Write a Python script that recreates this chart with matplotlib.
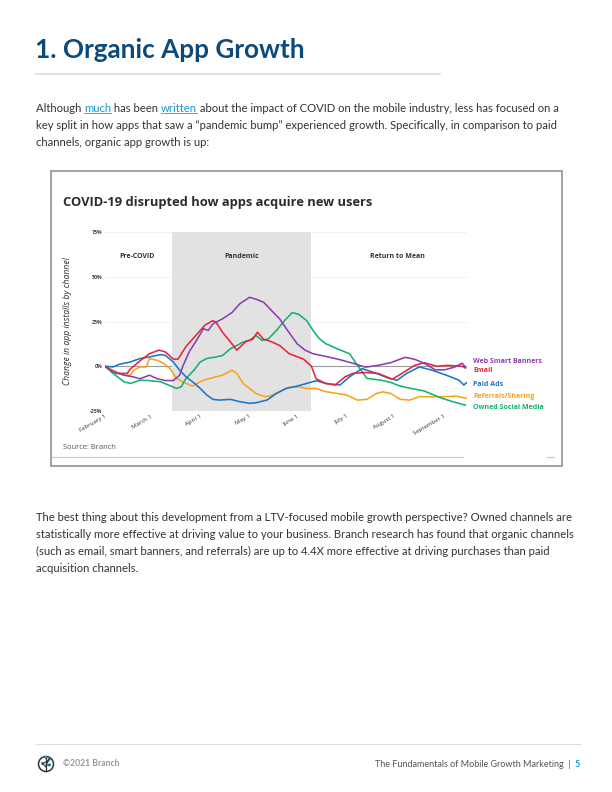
import matplotlib
matplotlib.use("Agg")
import matplotlib.pyplot as plt
from matplotlib.patches import Rectangle, Circle

# Data: days since February 1 (2020) and % change in installs
banners_days = [0, 5, 12, 18, 22, 28, 33, 38, 43, 47, 49, 53, 58, 62, 65, 68, 74, 80, 85, 91, 95, 100, 105,
                110, 115, 121, 126, 131, 139, 147, 156, 164, 172, 180, 189, 195, 201, 208, 214, 220, 225, 227]
banners_vals = [0, -3, -5, -6, -7, -5, -7, -8, -8, -5, 0, 8, 15, 21, 20, 23.7, 26.5, 30, 35, 38.5, 37.5, 35.7, 31,
                26.5, 20, 12.6, 9, 7, 5.5, 3.9, 1.7, -0.5, 0.5, 2, 5, 3.9, 1.7, -2, -2, -0.5, 1.7, -0.5]

email_days = [0, 7, 14, 16, 22, 28, 34, 38, 43, 46, 51, 58, 63, 68, 70, 74, 80, 83, 89, 93, 96, 100, 104, 110,
              116, 125, 130, 133, 139, 145, 151, 156, 164, 172, 181, 187, 195, 201, 209, 216, 225, 227]
email_vals = [0, -4, -4, -1.5, 3, 7, 9, 8, 4, 4, 11, 18, 23, 25.5, 24.5, 19, 12.5, 9, 14, 15, 19, 15, 14, 11.6,
              7, 4, 0, -7, -9.6, -10.5, -6, -4, -3.5, -4, -7.2, -4, 0.5, 2, 0, 0.5, 0, -1]

paid_days = [0, 5, 9, 16, 22, 28, 35, 38, 43, 47, 51, 56, 60, 64, 68, 72, 79, 85, 91, 95, 102, 108, 114, 121,
             127, 133, 139, 148, 154, 162, 171, 179, 184, 190, 198, 206, 215, 223, 226, 228]
paid_vals = [0, -0.4, 1.1, 2.4, 4.3, 5.2, 6.5, 6.1, 2.4, -2.2, -5.9, -9.3, -12.4, -16, -18.5, -18.9, -18.5,
             -19.8, -20.7, -20.4, -18.9, -15.2, -12.4, -11.1, -9.6, -8.1, -9.6, -10.5, -5.9, -1.3, -4, -6.8,
             -7.8, -4, -0.4, -2.2, -5, -7.8, -10.5, -9]

referral_days = [0, 5, 12, 16, 18, 22, 26, 28, 33, 37, 41, 45, 49, 55, 58, 62, 66, 70, 74, 80, 83, 87, 91, 95,
                 101, 104, 110, 116, 122, 127, 133, 139, 152, 159, 165, 171, 175, 180, 186, 192, 198, 206, 214,
                 221, 228]
referral_vals = [0, -2.2, -5, -5, -2.2, -0.4, -0.4, 4.3, 3.3, 1.5, -1.3, -6.8, -8.7, -11.1, -9.6, -7.8, -6.8,
                 -5.9, -5, -2.2, -4, -9.6, -12.4, -15.2, -17, -16.5, -14.2, -11.8, -11.5, -12.4, -12.4, -14.2,
                 -16, -18.9, -18.5, -15.2, -14.3, -15.2, -18.5, -18.9, -17, -17, -17, -16.7, -18]

social_days = [0, 5, 12, 16, 22, 28, 35, 40, 45, 48, 51, 56, 60, 64, 70, 74, 79, 83, 87, 91, 95, 99, 103, 108,
               113, 118, 122, 127, 131, 135, 139, 147, 154, 159, 165, 174, 180, 184, 189, 201, 211, 219, 227]
social_vals = [0, -4, -8.7, -9.6, -7.8, -8, -8.7, -10.5, -12.4, -11.5, -6.8, -2.2, 2.4, 4.3, 5.2, 6, 9.8, 11.6,
               13.5, 14.4, 17.2, 14.4, 15.4, 20, 25.5, 30, 29, 25.5, 20, 15.4, 12.6, 9.5, 7, 0.5, -6.8, -7.8,
               -9, -10.5, -11.7, -13.8, -17.5, -19.8, -21.7]

channel_names = ["Web Smart Banners", "Email", "Paid Ads", "Referrals/Sharing", "Owned Social Media"]
month_days = [0, 29, 60, 91, 121, 152, 182, 213]
month_labels = ["February 1", "March 1", "April 1", "May 1", "June 1", "July 1", "August 1", "September 1"]
y_ticks = [-25, 0, 25, 50, 75]
phase_names = ["Pre-COVID", "Pandemic", "Return to Mean"]
phase_days = [20, 86, 184]
pandemic_start, pandemic_end = 42, 130

purple = "#8a3fae"
red = "#e8243a"
blue = "#1b76c9"
orange = "#f8a31e"
green = "#14b26c"
dark = "#333333"
navy = "#0d4a7c"
link = "#1a9ad6"

fig = plt.figure(figsize=(6.12, 7.92), dpi=100)

# page layer in pixel coordinates
page = fig.add_axes([0, 0, 1, 1])
page.set_xlim(0, 612)
page.set_ylim(792, 0)
page.axis("off")

page.text(35, 58, "1. Organic App Growth", fontsize=18.8, fontweight="bold", color=navy,
          family="Lato", va="baseline")
page.plot([36, 440], [73.5, 73.5], color="#dddddd", lw=1.2)

fs = 8.1
body = dict(fontsize=fs, family="Lato", color=dark, va="baseline")

# first line with link-coloured words
pieces = [("Although ", dark), ("much", link), (" has been ", dark), ("written", link),
          (" about the impact of COVID on the mobile industry, less has focused on a", dark)]
links = []
prev = page.text(36, 112, pieces[0][0], **body)
for s, c in pieces[1:]:
    prev = page.annotate(s, xycoords=prev, xy=(1, 0), va="bottom", fontsize=fs, family="Lato", color=c)
    if c == link:
        links.append(prev)
page.text(36, 129, "key split in how apps that saw a \u201cpandemic bump\u201d experienced growth. Specifically, "
          "in comparison to paid", **body)
page.text(36, 146, "channels, organic app growth is up:", **body)

para2 = ["The best thing about this development from a LTV-focused mobile growth perspective? Owned channels are",
         "statistically more effective at driving value to your business. Branch research has found that organic channels",
         "(such as email, smart banners, and referrals) are up to 4.4X more effective at driving purchases than paid",
         "acquisition channels."]
for i, line in enumerate(para2):
    page.text(36, 521 + 17 * i, line, **body)

# chart frame
page.add_patch(Rectangle((51, 171), 511, 295, facecolor="white", edgecolor="#8c9399", lw=1.2))
page.plot([52, 463], [457, 457], color="#c8c8c8", lw=0.8)
page.plot([547, 554], [457, 457], color="#c8c8c8", lw=0.8)
page.text(63, 206, "COVID-19 disrupted how apps acquire new users", fontsize=9.3, fontweight="bold",
          family="Open Sans", color="#2b2b2b", va="baseline")
page.text(63, 449, "Source: Branch", fontsize=5.4, family="Open Sans", color="#555555", va="baseline")
page.text(68, 321, "Change in app installs by channel", fontsize=6.2, family="Open Sans", style="italic",
          color=dark, rotation=90, ha="center", va="center")

# footer
page.plot([36, 580], [743.5, 743.5], color="#dddddd", lw=0.8)
page.add_patch(Circle((46, 764), 7.5, facecolor="white", edgecolor="#333333", lw=1.1))
page.plot([46, 46], [771, 758], color="#333333", lw=0.9)
page.plot([46, 42.5, 46, 49.5, 46, 49.5], [767, 763.5, 762, 759, 765, 765], color="#333333", lw=0.8)
for cx, cy in [(42.5, 763.5), (49.5, 759), (49.5, 765), (46, 757.5)]:
    page.add_patch(Circle((cx, cy), 1.5, facecolor="#2b8fc7", edgecolor="none"))
page.text(63, 764, "\u00a92021 Branch", fontsize=6.2, fontweight="bold", family="Lato", color="#9a9a9a",
          va="center")
five = page.text(580, 767, "5", fontsize=6.5, fontweight="bold", family="Lato", color=link, va="baseline",
                 ha="right")
page.annotate("The Fundamentals of Mobile Growth Marketing  |  ", xycoords=five, xy=(0, 0), va="bottom",
              ha="right", fontsize=6.5, family="Lato", color="#555555")

# the chart itself
ax = fig.add_axes([105 / 612, 1 - 411 / 792, 362 / 612, 179 / 792])
ax.set_facecolor("none")
ax.set_xlim(0, 228)
ax.set_ylim(-25, 75)
for s in ax.spines.values():
    s.set_visible(False)
ax.axhline(0, color="#9a9a9a", lw=0.8, zorder=0)
for yv in [25, 50, 75, -25]:
    ax.axhline(yv, color="#eeeeee", lw=0.6, zorder=0)
ax.axvspan(pandemic_start, pandemic_end, color="#e2e2e2", lw=0, zorder=1)

ax.plot(referral_days, referral_vals, color=orange, lw=1.15, zorder=3)
ax.plot(social_days, social_vals, color=green, lw=1.15, zorder=3)
ax.plot(paid_days, paid_vals, color=blue, lw=1.15, zorder=3)
ax.plot(email_days, email_vals, color=red, lw=1.15, zorder=3)
ax.plot(banners_days, banners_vals, color=purple, lw=1.15, zorder=3)

ax.set_yticks(y_ticks)
ax.set_yticklabels([f"{v}%" for v in y_ticks], fontsize=3.8, fontweight="bold", family="Open Sans",
                   color="#444444")
ax.set_xticks(month_days)
ax.set_xticklabels(month_labels, fontsize=4.3, family="Open Sans", color="#333333", rotation=30,
                   ha="right", rotation_mode="anchor")
ax.tick_params(length=0, pad=2)

for name, d in zip(phase_names, phase_days):
    ax.text(d, 61.5, name, fontsize=5, fontweight="bold", family="Open Sans", color="#333333",
            ha="center", va="center")

label_y = [2.4, -2.2, -10.2, -17, -23.2]
for name, c, yv in zip(channel_names, [purple, red, blue, orange, green], label_y):
    ax.text(232, yv, name, fontsize=5.0, fontweight="bold", family="Open Sans", color=c,
            va="center", clip_on=False)

# underline the link words
fig.canvas.draw()
inv = page.transData.inverted()
for t in links:
    bb = t.get_window_extent()
    (x0, y0), (x1, _) = inv.transform([[bb.x0, bb.y0 + 1.5], [bb.x1, bb.y0]])
    page.plot([x0, x1], [y0, y0], color=link, lw=0.6)

fig.savefig("out.png", dpi=100)
